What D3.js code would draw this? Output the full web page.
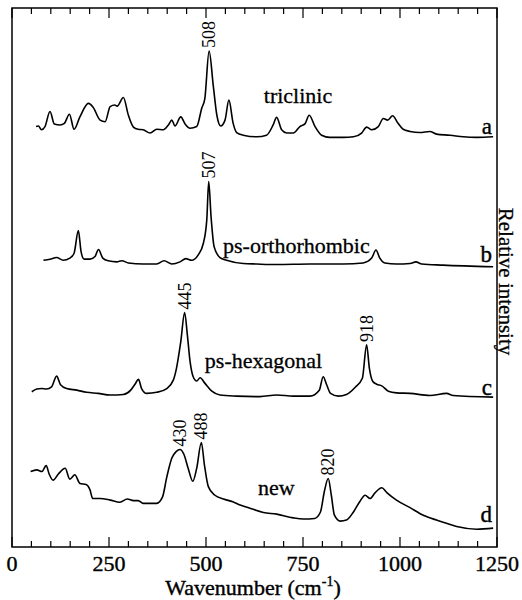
<!DOCTYPE html>
<html>
<head>
<meta charset="utf-8">
<script src="https://cdn.jsdelivr.net/npm/d3@7"></script>
<style>
  html, body { margin: 0; padding: 0; background: #fff; }
  svg { display: block; }
</style>
</head>
<body>
<div id="chart"></div>
<script>
const WIDTH = 522;
const HEIGHT = 600;
const MARGIN = { top: 8, right: 25, bottom: 53, left: 12 };
const FONT = "'Liberation Serif', 'Times New Roman', Times, 'DejaVu Serif', serif";

// wavenumber axis
const xTicks = [0, 250, 500, 750, 1000, 1250];
const xMinorTicks = d3.range(0, 1251, 50);

// spectra, [wavenumber cm-1, stacked relative intensity]
const traceTriclinic = [
  [62, 78.0], [68, 78.1], [76, 77.4], [85, 78.0], [98, 80.8], [109, 78.5], [124, 78.3], [135, 78.6],
  [148, 80.3], [160, 77.5], [175, 79.8], [197, 82.3], [209, 81.6], [227, 79.2], [240, 78.9], [253, 81.7],
  [265, 82.0], [271, 81.8], [287, 83.4], [300, 80.1], [313, 77.9], [325, 77.5], [338, 77.4], [356, 76.8],
  [373, 77.5], [390, 77.4], [403, 78.3], [412, 79.2], [420, 78.1], [435, 79.8], [446, 78.5], [459, 77.7],
  [476, 78.0], [489, 81.4], [497, 83.2], [508, 92.0], [519, 85.4], [528, 80.1], [538, 78.1], [549, 79.2],
  [559, 82.9], [570, 78.6], [579, 76.9], [596, 76.4], [631, 76.1], [656, 76.4], [673, 78.3], [682, 79.7],
  [695, 77.4], [708, 76.8], [725, 76.8], [742, 78.0], [755, 78.5], [766, 80.1], [781, 78.0], [798, 76.4],
  [819, 76.0], [854, 76.0], [880, 76.1], [901, 76.8], [914, 77.9], [927, 77.4], [944, 78.0], [957, 79.5],
  [968, 79.2], [981, 80.0], [995, 78.6], [1008, 77.5], [1026, 77.1], [1051, 76.9], [1077, 77.1], [1094, 76.6],
  [1129, 76.4], [1163, 76.1], [1198, 76.0], [1240, 76.1]
];

const traceOrthorhombic = [
  [81, 53.2], [98, 53.4], [115, 53.7], [132, 53.2], [149, 53.6], [160, 54.5], [171, 58.7], [178, 54.8],
  [186, 53.4], [201, 53.4], [214, 53.9], [223, 55.2], [234, 53.6], [248, 53.1], [270, 52.9], [283, 53.1],
  [300, 52.7], [338, 52.5], [373, 52.5], [392, 53.1], [412, 52.5], [433, 52.9], [448, 53.5], [463, 53.2],
  [480, 54.2], [493, 56.3], [502, 60.7], [507, 67.8], [513, 61.3], [521, 55.7], [536, 53.7], [553, 53.2],
  [596, 52.6], [631, 52.5], [682, 52.4], [768, 52.5], [854, 52.5], [905, 52.7], [927, 53.6], [938, 55.1],
  [948, 53.6], [961, 52.7], [991, 52.5], [1026, 52.6], [1041, 52.9], [1056, 52.5], [1111, 52.3], [1240, 52.0]
];

const traceHexagonal = [
  [51, 28.8], [64, 29.3], [76, 29.4], [89, 29.3], [102, 29.7], [115, 31.7], [125, 30.1], [141, 29.4],
  [167, 29.1], [192, 28.7], [222, 28.5], [253, 28.2], [287, 28.3], [306, 29.1], [317, 30.2], [326, 31.1],
  [334, 29.4], [347, 28.5], [373, 28.7], [399, 29.4], [416, 31.0], [424, 33.2], [435, 38.1], [445, 43.5],
  [452, 39.3], [459, 34.4], [467, 31.6], [476, 30.8], [485, 31.4], [497, 30.4], [515, 28.9], [536, 28.2],
  [579, 28.0], [639, 27.9], [682, 28.2], [725, 28.0], [768, 28.0], [792, 29.1], [802, 31.6], [811, 30.1],
  [821, 28.5], [841, 28.0], [862, 28.3], [884, 29.6], [903, 31.3], [914, 37.5], [921, 33.2], [930, 30.7],
  [940, 30.2], [953, 29.9], [970, 28.9], [991, 28.6], [1026, 28.5], [1077, 28.1], [1120, 28.5], [1137, 28.1],
  [1240, 27.8]
];

const traceNew = [
  [48, 14.0], [64, 14.3], [77, 14.0], [88, 15.1], [96, 13.5], [106, 12.4], [119, 13.5], [137, 14.6],
  [149, 12.6], [162, 13.4], [175, 11.8], [191, 11.6], [201, 10.6], [208, 9.0], [227, 9.0], [253, 8.7],
  [278, 8.3], [297, 8.9], [313, 8.6], [325, 8.6], [338, 8.1], [373, 8.1], [388, 9.3], [399, 13.0],
  [412, 16.5], [423, 17.7], [433, 18.1], [443, 17.2], [454, 14.6], [466, 12.2], [476, 14.6], [488, 19.4],
  [496, 15.2], [506, 11.2], [523, 9.6], [545, 8.9], [569, 8.4], [588, 7.8], [613, 7.2], [648, 6.4],
  [682, 6.1], [725, 5.4], [751, 5.2], [780, 5.3], [795, 6.5], [805, 10.3], [815, 12.7], [823, 9.6],
  [831, 5.9], [846, 4.8], [862, 5.0], [880, 6.5], [897, 8.5], [910, 9.6], [923, 9.0], [935, 10.0],
  [953, 11.0], [966, 10.1], [991, 8.7], [1026, 7.3], [1060, 5.9], [1094, 5.0], [1111, 4.6], [1146, 3.8],
  [1198, 3.3], [1240, 3.5]
];

const traces = [traceTriclinic, traceOrthorhombic, traceHexagonal, traceNew];
const traceNames = ["triclinic", "ps-orthorhombic", "ps-hexagonal", "new"];
const traceLetters = ["a", "b", "c", "d"];

// labelled peaks and the trace each belongs to
const peakLabels = ["508", "507", "445", "918", "430", "488", "820"];
const peakTrace = [0, 1, 2, 2, 3, 3, 3];

const svg = d3.select("#chart").append("svg")
  .attr("width", WIDTH)
  .attr("height", HEIGHT)
  .attr("font-family", FONT)
  .style("font-family", FONT);

const x = d3.scaleLinear().domain([0, 1250]).range([MARGIN.left, WIDTH - MARGIN.right]);
const y = d3.scaleLinear().domain([0, 100]).range([HEIGHT - MARGIN.bottom, MARGIN.top]);

const x0 = MARGIN.left, x1 = WIDTH - MARGIN.right;
const y0 = MARGIN.top, y1 = HEIGHT - MARGIN.bottom;

// frame
svg.append("rect")
  .attr("x", x0).attr("y", y0)
  .attr("width", x1 - x0).attr("height", y1 - y0)
  .attr("fill", "none").attr("stroke", "#000").attr("stroke-width", 1.5);

// ticks point inward, on top and bottom
const tickLen = (d) => (d % 250 === 0 ? 10 : 6);
const ticks = svg.append("g").attr("stroke", "#000").attr("stroke-width", 1.2);
ticks.selectAll("line.b").data(xMinorTicks).join("line")
  .attr("class", "b")
  .attr("x1", (d) => x(d)).attr("x2", (d) => x(d))
  .attr("y1", y1).attr("y2", (d) => y1 - tickLen(d));
ticks.selectAll("line.t").data(xMinorTicks).join("line")
  .attr("class", "t")
  .attr("x1", (d) => x(d)).attr("x2", (d) => x(d))
  .attr("y1", y0).attr("y2", (d) => y0 + tickLen(d));

svg.append("g").selectAll("text").data(xTicks).join("text")
  .attr("x", (d) => x(d))
  .attr("y", y1 + 24)
  .attr("text-anchor", "middle")
  .attr("font-size", 22)
  .attr("stroke", "#000").attr("stroke-width", 0.4)
  .text((d) => d);

// axis titles
const xTitle = svg.append("text")
  .attr("x", 253)
  .attr("y", HEIGHT - 5)
  .attr("text-anchor", "middle")
  .attr("font-size", 22)
  .attr("stroke", "#000").attr("stroke-width", 0.4);
xTitle.append("tspan").text("Wavenumber (cm");
xTitle.append("tspan").attr("font-size", 14).attr("dy", -9).text("-1");
xTitle.append("tspan").attr("dy", 9).text(")");

svg.append("text")
  .attr("transform", `translate(${x1 + 2},${(y0 + y1) / 2 + 4}) rotate(90)`)
  .attr("text-anchor", "middle")
  .attr("font-size", 21)
  .attr("stroke", "#000").attr("stroke-width", 0.3)
  .text("Relative intensity");

// spectra
const line = d3.line()
  .x((d) => x(d[0]))
  .y((d) => y(d[1]))
  .curve(d3.curveMonotoneX);

svg.append("g").selectAll("path").data(traces).join("path")
  .attr("d", line)
  .attr("fill", "none")
  .attr("stroke", "#000")
  .attr("stroke-width", 1.6)
  .attr("stroke-linejoin", "round");

// trace names, anchored in data units
const namePos = [[649, 82.4], [544, 54.5], [497, 33.2], [634, 9.7]];
svg.append("g").selectAll("text").data(traceNames).join("text")
  .attr("x", (d, i) => x(namePos[i][0]))
  .attr("y", (d, i) => y(namePos[i][1]))
  .attr("font-size", 22)
  .attr("stroke", "#000").attr("stroke-width", 0.3)
  .text((d) => d);

const letterPos = [76.6, 52.9, 28.2, 4.6];
svg.append("g").selectAll("text").data(traceLetters).join("text")
  .attr("x", x1 - 5)
  .attr("y", (d, i) => y(letterPos[i]))
  .attr("text-anchor", "end")
  .attr("font-size", 23)
  .attr("stroke", "#000").attr("stroke-width", 0.4)
  .text((d) => d);

// peak labels, read upward just above the peak maximum
svg.append("g").selectAll("text").data(peakLabels).join("text")
  .each(function (d, i) {
    const pts = traces[peakTrace[i]];
    const wn = +d;
    const near = pts.filter((p) => Math.abs(p[0] - wn) <= 8);
    const top = d3.greatest(near, (p) => p[1]);
    const px = x(top[0]) + 6;
    const py = y(top[1]) - 3;
    d3.select(this).attr("transform", `translate(${px},${py}) rotate(-90)`);
  })
  .attr("font-size", 18)
  .text((d) => d);
</script>
</body>
</html>
